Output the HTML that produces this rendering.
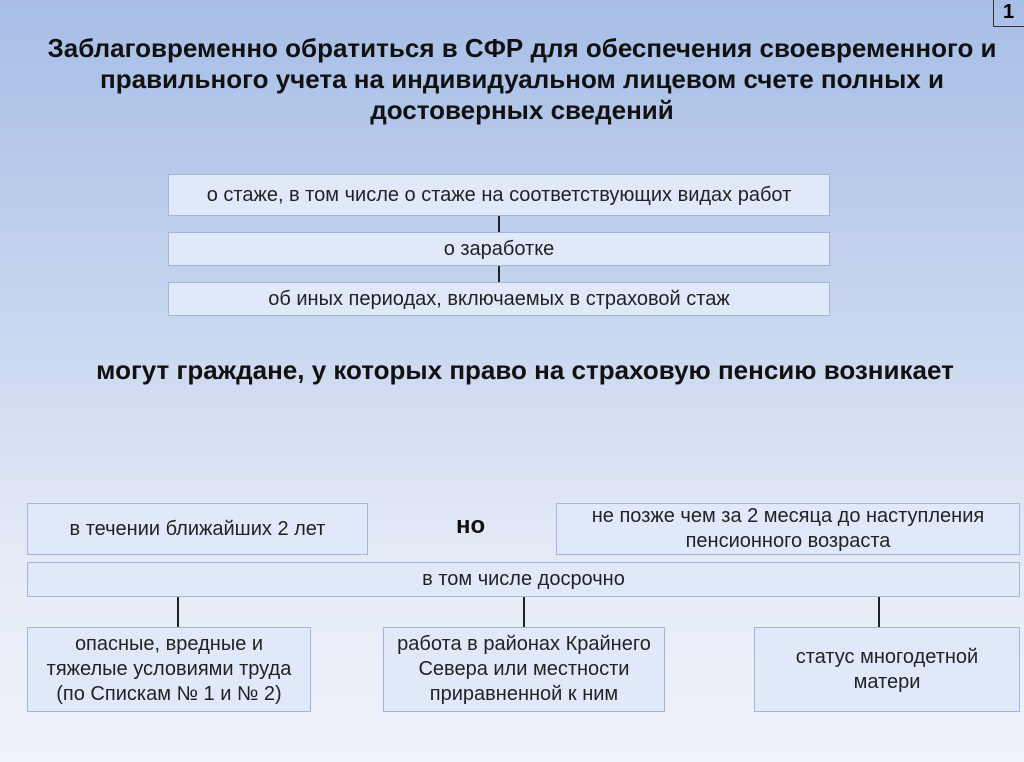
<!DOCTYPE html>
<html><head><meta charset="utf-8"><style>
body{margin:0;width:1024px;height:762px;overflow:hidden;font-family:"Liberation Sans",sans-serif;background:linear-gradient(180deg,#a7bee7 0%,#c6d4ee 40%,#e6ecf7 75%,#eef2f9 100%);position:relative}
.b{position:absolute;background:#dfe9f9;border:1.5px solid #a3b6d8;box-sizing:border-box;display:flex;align-items:center;justify-content:center;text-align:center;font-size:20px;color:#222;line-height:25px;white-space:nowrap}
.t{position:absolute;left:-20px;width:1084px;text-align:center;font-weight:bold;font-size:26px;color:#111;line-height:31px;white-space:nowrap}
.l{position:absolute;width:2px;background:#222}
</style></head><body>
<div style="position:absolute;left:993px;top:-2px;width:40px;height:29px;border:1.5px solid #333;box-sizing:border-box;font-weight:bold;font-size:20px;padding:2px 0 0 9px">1</div>
<div class="t" style="top:33px">Заблаговременно обратиться в СФР для обеспечения своевременного и<br>правильного учета на индивидуальном лицевом счете полных и<br>достоверных сведений</div>
<div class="b" style="left:168px;top:174px;width:662px;height:42px">о стаже, в том числе о стаже на соответствующих видах работ</div>
<div class="l" style="left:498px;top:216px;height:16px"></div>
<div class="b" style="left:168px;top:232px;width:662px;height:34px">о заработке</div>
<div class="l" style="left:498px;top:266px;height:16px"></div>
<div class="b" style="left:168px;top:282px;width:662px;height:34px">об иных периодах, включаемых в страховой стаж</div>
<div class="t" style="top:355px;left:0;width:1050px">могут граждане, у которых право на страховую пенсию возникает</div>
<div class="b" style="left:27px;top:503px;width:341px;height:52px">в течении ближайших 2 лет</div>
<div style="position:absolute;left:456px;top:512px;font-weight:bold;font-size:24px;color:#111">но</div>
<div class="b" style="left:556px;top:503px;width:464px;height:52px">не позже чем за 2 месяца до наступления<br>пенсионного возраста</div>
<div class="b" style="left:27px;top:562px;width:993px;height:35px">в том числе досрочно</div>
<div class="l" style="left:177px;top:597px;height:31px"></div>
<div class="l" style="left:523px;top:597px;height:31px"></div>
<div class="l" style="left:878px;top:597px;height:31px"></div>
<div class="b" style="left:27px;top:627px;width:284px;height:85px">опасные, вредные и<br>тяжелые условиями труда<br>(по Спискам № 1 и № 2)</div>
<div class="b" style="left:383px;top:627px;width:282px;height:85px">работа в районах Крайнего<br>Севера или местности<br>приравненной к ним</div>
<div class="b" style="left:754px;top:627px;width:266px;height:85px">статус многодетной<br>матери</div>
</body></html>
